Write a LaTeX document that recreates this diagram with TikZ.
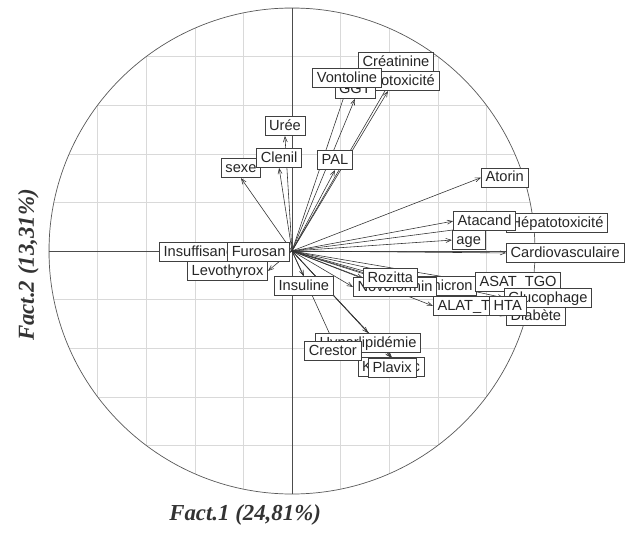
\documentclass[tikz,border=0pt]{standalone}
\usepackage{fontspec}
\setmainfont{Liberation Serif}
\setsansfont{Liberation Sans}
\usepackage{tikz}
\usetikzlibrary{arrows.meta}
\usetikzlibrary{backgrounds}

\begin{document}
\begin{tikzpicture}[x=7.29cm, y=7.29cm,
    lab/.style={draw=black!75, fill=white, line width=0.6pt, text=black!85,
        font=\sffamily\fontsize{12.5}{14}\selectfont, inner xsep=3.6pt, inner ysep=0pt,
        text height=9.6pt, text depth=2.4pt, minimum height=0.58cm},
    vec/.style={draw=black!80, line width=0.5pt, -{Straight Barb[length=4.5pt, width=3.5pt]}},
    gridline/.style={draw=black!15, line width=0.5pt},
    axtitle/.style={text=black!80, font=\bfseries\itshape\fontsize{19.5}{22}\selectfont}]
    \useasboundingbox (-1.2016,-1.2428) rectangle (1.3827,1.0329);
    \coordinate (O) at (0,0);

    % labels, later ones on top
    \node (sexe) [lab, anchor=south] at (-0.210,0.300) {sexe};
    \node (clenil) [lab, anchor=south] at (-0.053,0.342) {Clenil};
    \node (uree) [lab, anchor=south] at (-0.029,0.473) {Urée};
    \node (pal) [lab, anchor=south] at (0.177,0.333) {PAL};
    \node (creat) [lab, anchor=south] at (0.428,0.737) {Créatinine};
    \node (nephro) [lab, anchor=south] at (0.395,0.658) {Néphrotoxicité};
    \node (ggt) [lab, anchor=south] at (0.259,0.626) {GGT};
    \node (vonto) [lab, anchor=south] at (0.226,0.671) {Vontoline};

    \node (insuff) [lab, anchor=east] at (-0.189,-0.004) {Insuffisance};
    \node (levo) [lab, anchor=east] at (-0.099,-0.082) {Levothyrox};
    \node (furosan) [lab, anchor=east] at (-0.008,-0.004) {Furosan};
    \node (insuline) [lab, anchor=north] at (0.049,-0.103) {Insuline};

    \node (kardegic) [lab, anchor=north] at (0.408,-0.436) {Kardégic};
    \node (plavix) [lab, anchor=north] at (0.412,-0.440) {Plavix};
    \node (hyper) [lab, anchor=north] at (0.313,-0.337) {Hyperlipidémie};
    \node (crestor) [lab, anchor=north] at (0.168,-0.370) {Crestor};

    \node (hepato) [lab, anchor=west] at (0.881,0.115) {Hépatotoxicité};
    \node (atacand) [lab, anchor=west] at (0.663,0.123) {Atacand};
    \node (age) [lab, anchor=west] at (0.658,0.045) {age};
    \node (cardio) [lab, anchor=west] at (0.881,-0.008) {Cardiovasculaire};
    \node (atorin) [lab, anchor=west] at (0.778,0.302) {Atorin};

    \node (diamicron) [lab, anchor=west] at (0.453,-0.144) {Diamicron};
    \node (novo) [lab, anchor=west] at (0.251,-0.148) {Novoformin};
    \node (rozitta) [lab, anchor=west] at (0.292,-0.111) {Rozitta};
    \node (asat) [lab, anchor=west] at (0.753,-0.128) {ASAT\_TGO};
    \node (diabete) [lab, anchor=west] at (0.881,-0.267) {Diabète};
    \node (gluco) [lab, anchor=west] at (0.872,-0.193) {Glucophage};
    \node (alat) [lab, anchor=west] at (0.580,-0.226) {ALAT\_TGP};
    \node (hta) [lab, anchor=west] at (0.811,-0.226) {HTA};

    \node (fact1) [axtitle] at (-0.193,-1.086) {Fact.1 (24,81\%)};
    \node (fact2) [axtitle, rotate=90] at (-1.085,-0.058) {Fact.2 (13,31\%)};

    \begin{pgfonlayer}{background}
        % grid inside the unit circle
        \begin{scope}
            \clip (O) circle (1);
            \draw[gridline, step=0.2] (-1,-1) grid (1,1);
        \end{scope}
        \draw[black!65, line width=0.6pt] (O) circle (1);
        \draw[black!70, line width=0.6pt] (-1,0) -- (1,0);
        \draw[black!70, line width=0.6pt] (0,-1) -- (0,1);

        \draw[vec] (O) -- (sexe.south);
        \draw[vec] (O) -- (clenil.south);
        \draw[vec] (O) -- (uree.south);
        \draw[vec] (O) -- (pal.south);
        \draw[vec] (O) -- (creat.south);
        \draw[vec] (O) -- (nephro.south);
        \draw[vec] (O) -- (ggt.south);
        \draw[vec] (O) -- (vonto.south);
        \draw[vec] (O) -- (insuff.east);
        \draw[vec] (O) -- (levo.east);
        \draw[vec] (O) -- (insuline.north);
        \draw[vec] (O) -- (kardegic.north);
        \draw[vec] (O) -- (plavix.north);
        \draw[vec] (O) -- (hyper.north);
        \draw[vec] (O) -- (crestor.north);
        \draw[vec] (O) -- (hepato.west);
        \draw[vec] (O) -- (atacand.west);
        \draw[vec] (O) -- (age.west);
        \draw[vec] (O) -- (cardio.west);
        \draw[vec] (O) -- (atorin.west);
        \draw[vec] (O) -- (diamicron.west);
        \draw[vec] (O) -- (novo.west);
        \draw[vec] (O) -- (rozitta.west);
        \draw[vec] (O) -- (asat.west);
        \draw[vec] (O) -- (diabete.west);
        \draw[vec] (O) -- (gluco.west);
        \draw[vec] (O) -- (alat.west);
        \draw[vec] (O) -- (hta.west);
    \end{pgfonlayer}
\end{tikzpicture}
\end{document}
